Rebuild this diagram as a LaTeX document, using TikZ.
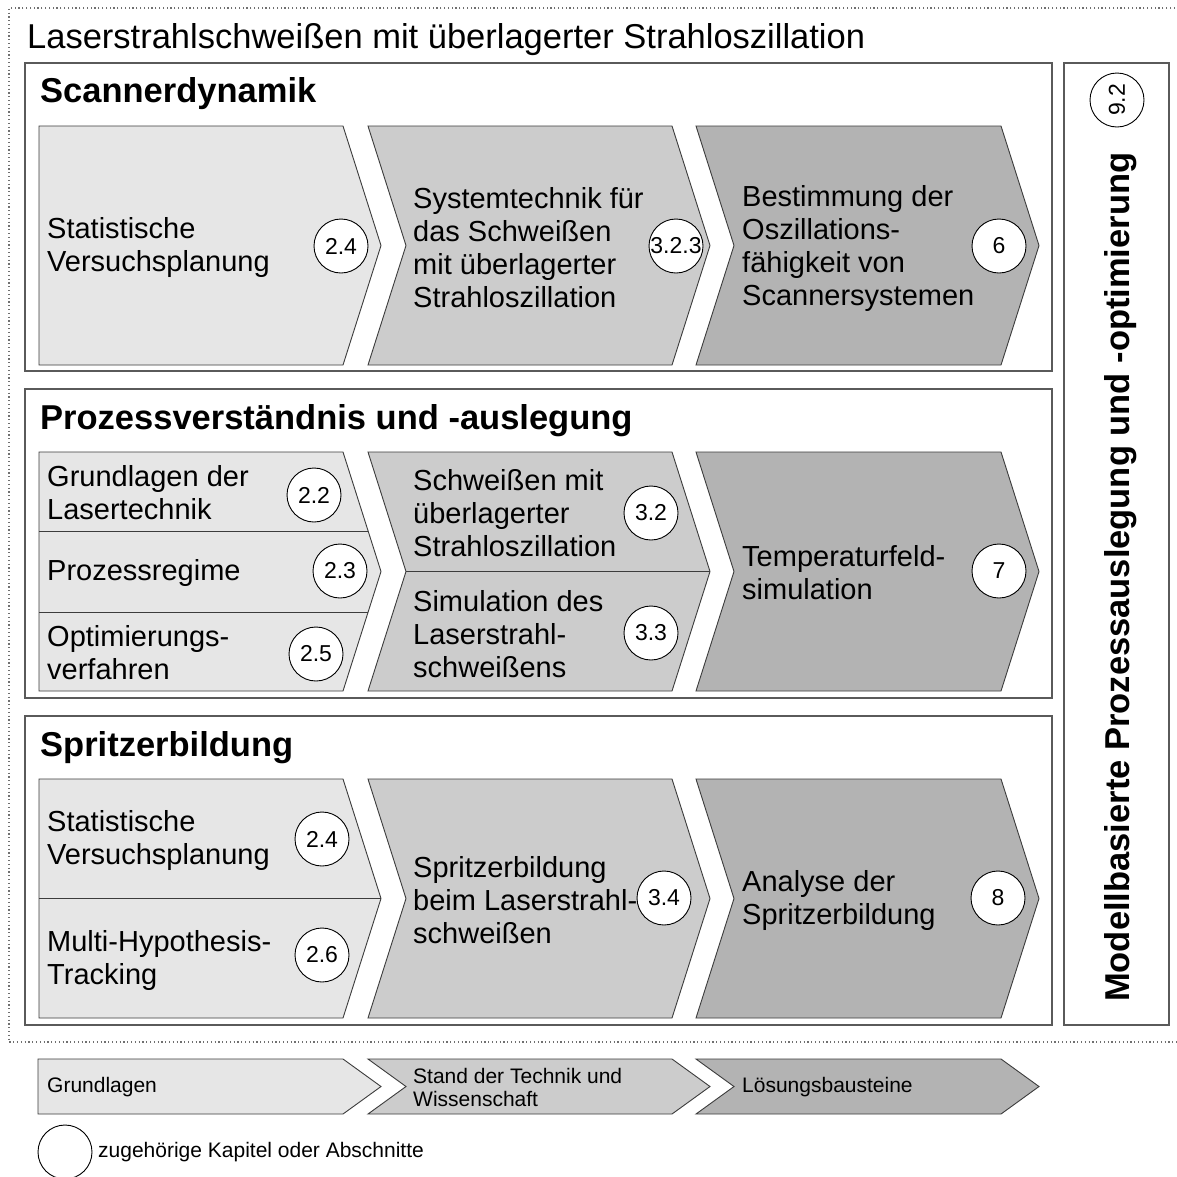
\documentclass[tikz,border=0pt]{standalone}
\usepackage{fontspec}
\setmainfont{Liberation Sans}
\definecolor{lightfill}{HTML}{E6E6E6}
\definecolor{midfill}{HTML}{CCCCCC}
\definecolor{darkfill}{HTML}{B3B3B3}
\definecolor{edge}{HTML}{3C3C3C}
\definecolor{framecol}{HTML}{5A5A5A}
\definecolor{dotcol}{HTML}{707070}

\newcommand\bodyfont{\fontsize{29}{33}\selectfont}
\newcommand\titlefont{\fontsize{34.5}{40}\selectfont}
\newcommand\headfont{\fontsize{34.5}{40}\selectfont\bfseries}
\newcommand\numfont{\fontsize{23}{26}\selectfont}
\newcommand\legendfont{\fontsize{21}{23}\selectfont}

% chevron with a flat left side: x-left, x-right, y-top, y-bottom, style
\newcommand\chevstart[5]{\path[#5] (#1,#3) -- (#2,#3) -- ({#2+38},{(#3+#4)/2}) -- (#2,#4) -- (#1,#4) -- cycle;}
% chevron with a notched left side
\newcommand\chevmid[5]{\path[#5] (#1,#3) -- (#2,#3) -- ({#2+38},{(#3+#4)/2}) -- (#2,#4) -- (#1,#4) -- ({#1+38},{(#3+#4)/2}) -- cycle;}

\begin{document}
\begin{tikzpicture}[x=1pt, y=-1pt,
  chevA/.style={fill=lightfill, draw=edge, line width=0.9pt, line join=miter},
  chevB/.style={fill=midfill, draw=edge, line width=0.9pt, line join=miter},
  chevC/.style={fill=darkfill, draw=edge, line width=0.9pt, line join=miter},
  divider/.style={draw=edge, line width=0.9pt},
  section/.style={draw=framecol, line width=1.6pt},
  txt/.style={font=\bodyfont, align=left, anchor=west, inner sep=0pt},
  legtxt/.style={font=\legendfont, align=left, anchor=west, inner sep=0pt},
  head/.style={font=\headfont, anchor=base west, inner sep=0pt},
  num/.style={circle, draw=black, fill=white, line width=0.9pt, minimum size=54pt, inner sep=0pt, font=\numfont}]

\useasboundingbox (0,0) rectangle (1177,1176);
\fill[white] (0,0) rectangle (1177,1176);

% dotted frame around the whole concept
\draw[dotcol, line width=1.1pt, dash pattern=on 1.2pt off 2.6pt]
  (1190,8) -- (9,8) -- (9,1042) -- (1190,1042);

\node[font=\titlefont, anchor=base west, inner sep=0pt] (title) at (27,48)
  {Laserstrahlschweißen mit überlagerter Strahloszillation};

% ---------- section frames ----------
\draw[section] (25,63) rectangle (1052,371);
\draw[section] (25,389) rectangle (1052,698);
\draw[section] (25,716) rectangle (1052,1025);
\draw[section] (1064,63) rectangle (1169,1025);

\node[head] (h1) at (40,102) {Scannerdynamik};
\node[head] (h2) at (40,429) {Prozessverständnis und -auslegung};
\node[head] (h3) at (40,756) {Spritzerbildung};

% ---------- row 1: Scannerdynamik ----------
\chevstart{39}{343}{126}{365}{chevA}
\chevmid{368}{672}{126}{365}{chevB}
\chevmid{696}{1001}{126}{365}{chevC}

\node[txt] (s1) at (47,247) {Statistische\\Versuchsplanung};
\node[txt] (s2) at (413,248) {Systemtechnik für\\das Schweißen\\mit überlagerter\\Strahloszillation};
\node[txt] (s3) at (742,248) {Bestimmung der\\Oszillations-\\fähigkeit von\\Scannersystemen};

\node[num] (n24a) at (341,246) {2.4};
\node[num] (n323) at (676,246) {3.2.3};
\node[num] (n6) at (999,246) {6};

% ---------- row 2: Prozessverständnis ----------
\chevstart{39}{343}{452}{691}{chevA}
\chevmid{368}{672}{452}{691}{chevB}
\chevmid{696}{1001}{452}{691}{chevC}
\draw[divider] (39,531) -- (368.1,531);
\draw[divider] (39,612) -- (368.1,612);
\draw[divider] (406,571.5) -- (710,571.5);

\node[txt] (p1) at (47,493) {Grundlagen der\\Lasertechnik};
\node[txt] (p2) at (47,573) {Prozessregime};
\node[txt] (p3) at (47,653) {Optimierungs-\\verfahren};
\node[txt] (p4) at (413,513) {Schweißen mit\\überlagerter\\Strahloszillation};
\node[txt] (p5) at (413,634) {Simulation des\\Laserstrahl-\\schweißens};
\node[txt] (p6) at (742,573) {Temperaturfeld-\\simulation};

\node[num] (n22) at (314,495) {2.2};
\node[num] (n23) at (340,571) {2.3};
\node[num] (n25) at (316,654) {2.5};
\node[num] (n32) at (651,513) {3.2};
\node[num] (n33) at (651,633) {3.3};
\node[num] (n7) at (999,571) {7};

% ---------- row 3: Spritzerbildung ----------
\chevstart{39}{343}{779}{1018}{chevA}
\chevmid{368}{672}{779}{1018}{chevB}
\chevmid{696}{1001}{779}{1018}{chevC}
\draw[divider] (39,898.5) -- (381,898.5);

\node[txt] (r1) at (47,840) {Statistische\\Versuchsplanung};
\node[txt] (r2) at (47,960) {Multi-Hypothesis-\\Tracking};
\node[txt] (r3) at (413,900) {Spritzerbildung\\beim Laserstrahl-\\schweißen};
\node[txt] (r4) at (742,900) {Analyse der\\Spritzerbildung};

\node[num] (n24b) at (322,839) {2.4};
\node[num] (n26) at (322,955) {2.6};
\node[num] (n34) at (664,898) {3.4};
\node[num] (n8) at (998,898) {8};

% ---------- vertical side column ----------
\node[head, rotate=90] (side) at (1129,1002) {Modellbasierte Prozessauslegung und -optimierung};
\node[num, rotate=90] (n92) at (1117,100) {9.2};

% ---------- legend ----------
\chevstart{38}{343}{1059}{1114}{chevA}
\chevmid{368}{672}{1059}{1114}{chevB}
\chevmid{696}{1001}{1059}{1114}{chevC}
\node[legtxt] (l1) at (47,1087) {Grundlagen};
\node[legtxt] (l2) at (413,1087) {Stand der Technik und\\Wissenschaft};
\node[legtxt] (l3) at (742,1087) {Lösungsbausteine};
\node[circle, draw=black, line width=0.9pt, minimum size=54pt, inner sep=0pt] (lc) at (65,1152) {};
\node[legtxt] (lct) at (98,1152) {zugehörige Kapitel oder Abschnitte};

\end{tikzpicture}
\end{document}
